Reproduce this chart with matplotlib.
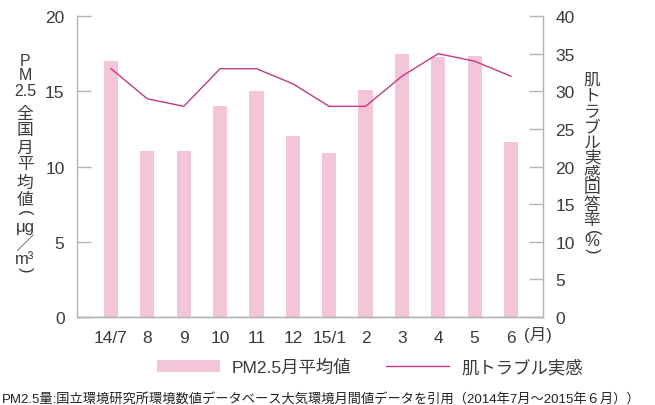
import numpy as np
import matplotlib
matplotlib.use("Agg")
import matplotlib.pyplot as plt

plt.rcParams['font.family'] = ['Liberation Sans', 'Noto Sans CJK JP', 'DejaVu Sans']

# data
months = ["14/7", "8", "9", "10", "11", "12", "15/1", "2", "3", "4", "5", "6"]
pm25 = [17.0, 11.0, 11.0, 14.0, 15.0, 12.0, 10.9, 15.1, 17.5, 17.3, 17.35, 11.6]
skin_trouble = [33, 29, 28, 33, 33, 31, 28, 28, 32, 35, 34, 32]

bar_color = '#F4C4D9'
line_color = '#C23A86'
spine_color = '#B4B4B4'
text_color = '#3A3A3A'

W, H = 655, 406
fig = plt.figure(figsize=(W / 100, H / 100), dpi=100)
ax = fig.add_axes([0.1176, 0.2167, 0.829 - 0.1176, 0.958 - 0.2167])
ax2 = ax.twinx()

x = np.arange(len(months))
bars = ax.bar(x, pm25, width=0.39, color=bar_color, label='PM2.5月平均値', zorder=2)
line, = ax2.plot(x, skin_trouble, color=line_color, lw=1.0, label='肌トラブル実感', zorder=3)

ax.set_xlim(-0.935, 11.88)
ax.set_ylim(0, 20)
ax2.set_ylim(0, 40)
ax.set_yticks([0, 5, 10, 15, 20])
ax2.set_yticks([0, 5, 10, 15, 20, 25, 30, 35, 40])

for a in (ax, ax2):
    a.spines['top'].set_visible(False)
    for s in ('left', 'right', 'bottom'):
        a.spines[s].set_color(spine_color)
        a.spines[s].set_linewidth(1.0)
    a.tick_params(axis='y', direction='in', length=10, width=1.0, color=spine_color,
                  labelsize=12.5, labelcolor=text_color, pad=9)
ax.spines['right'].set_visible(False)
ax2.spines['left'].set_visible(False)

ax.set_xticks(x)
ax.set_xticklabels(months)
ax.tick_params(axis='x', length=0, labelsize=12.5, labelcolor=text_color, pad=9)
fig.text(538 / W, 1 - 335 / H, '(月)', ha='center', va='center', fontsize=12, color=text_color)


def stack(xp, items, size=12):
    # items: (text, y centre in px, rotation)
    for s, yp, rot in items:
        fig.text(xp / W, 1 - yp / H, s, ha='center', va='center', rotation=rot,
                 fontsize=size, color=text_color)


# vertical axis titles
stack(25, [('P', 61, 0), ('M', 76, 0), ('2.5', 92, 0)], size=11.5)
stack(25, [('全', 114, 0), ('国', 131, 0),
           ('月', 148, 0), ('平', 165, 0), ('均', 183, 0), ('値', 200, 0), ('(', 213, -90),
           ('μg', 228, 0), ('╱', 244, 0), ('m³', 259, 0), (')', 270, -90)])
stack(592, [('肌', 80, 0), ('ト', 96, 0), ('ラ', 113, 0), ('ブ', 128, 0), ('ル', 143, 0),
            ('実', 158, 0), ('感', 174, 0), ('回', 189, 0), ('答', 205, 0), ('率', 221, 0),
            ('(', 233, -90), ('%', 242, 0), (')', 251, -90)])

fig.legend(handles=[bars, line], loc='center', bbox_to_anchor=(0.565, 0.094), ncol=2,
           frameon=False, fontsize=12.5, handlelength=3.6, handleheight=0.65,
           handletextpad=0.7, columnspacing=2.0, labelcolor=text_color)

fig.text(0.003, 1 - 399 / H,
         'PM2.5量:国立環境研究所環境数値データベース大気環境月間値データを引用（2014年7月～2015年６月））',
         ha='left', va='center', fontsize=9.5, color='#222222')

fig.savefig('out.png', dpi=100)
